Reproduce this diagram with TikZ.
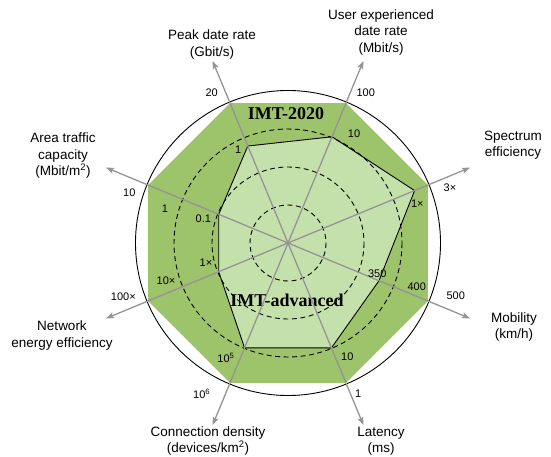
\documentclass[tikz,border=0pt]{standalone}
\usepackage{fontspec}
\setmainfont{Liberation Sans}
\newfontfamily\imtfont{Liberation Serif}
\usetikzlibrary{arrows.meta}
\definecolor{outergreen}{RGB}{157,195,107}
\definecolor{innergreen}{RGB}{197,225,171}
\definecolor{spokegray}{RGB}{148,148,148}

\begin{document}
\begin{tikzpicture}[x=1pt,y=-1pt,
  axislabel/.style={align=center,font=\fontsize{13.5}{16.5}\selectfont,inner sep=0pt},
  tick/.style={font=\fontsize{11}{13}\selectfont,inner sep=0pt},
  spoke/.style={draw=spokegray,line width=1.3pt,-{Stealth[length=8pt,width=6pt,inset=1.5pt]}},
  ring/.style={draw=black,line width=0.9pt,dash pattern=on 5pt off 3.5pt},
  system/.style={font=\imtfont\bfseries\fontsize{18}{20}\selectfont,inner sep=0pt}]
\useasboundingbox (0,0) rectangle (551,456);

\begin{scope}[shift={(288,243)}]
  \coordinate (O) at (0,0);
  % axis directions (y grows downwards): name / angle / IMT-advanced radius
  \foreach \n/\a/\r in {pk/-112.5/105, ue/-67.5/115, se/-22.5/137, mo/22.5/98.5,
                        la/67.5/113.5, cd/112.5/113.5, ne/157.5/75, at/202.5/75} {
    \coordinate (oct-\n) at (\a:151.5);
    \coordinate (adv-\n) at (\a:\r);
    \coordinate (tip-\n) at (\a:197);
  }
  % IMT-2020 area
  \fill[outergreen] (oct-pk) -- (oct-ue) -- (oct-se) -- (oct-mo) -- (oct-la)
    -- (oct-cd) -- (oct-ne) -- (oct-at) -- cycle;
  % IMT-advanced area
  \filldraw[fill=innergreen,draw=black,line width=0.9pt,line join=round]
    (adv-pk) -- (adv-ue) -- (adv-se) -- (adv-mo) -- (adv-la)
    -- (adv-cd) -- (adv-ne) -- (adv-at) -- cycle;
\end{scope}

\node[system] (imt2020) at (286,114) {IMT-2020};
\node[system] (imtadv) at (287,300) {IMT-advanced};

\begin{scope}[shift={(288,243)}]
  \draw[ring] (O) circle[radius=38];
  \draw[ring] (O) circle[radius=76];
  \draw[ring] (O) circle[radius=114];
  \draw[line width=0.9pt] (O) circle[radius=152.5];
  \foreach \n in {pk,ue,se,mo,la,cd,ne,at}
    \draw[spoke] (O) -- (tip-\n);
\end{scope}

% axis titles
\node[axislabel] (l-pk) at (212,44.5) {Peak date rate\\(Gbit/s)};
\node[axislabel] (l-ue) at (381,32.5) {User experienced\\date rate\\(Mbit/s)};
\node[axislabel] (l-se) at (513,145) {Spectrum\\efficiency};
\node[axislabel] (l-at) at (63,155.5) {Area traffic\\capacity\\(Mbit/m\textsuperscript{2})};
\node[axislabel] (l-mo) at (514,327) {Mobility\\(km/h)};
\node[axislabel] (l-ne) at (62,335.5) {Network\\energy efficiency};
\node[axislabel] (l-cd) at (208,441) {Connection density\\(devices/km\textsuperscript{2})};
\node[axislabel] (l-la) at (381,441) {Latency\\(ms)};

% scale values
\node[tick] (t-pk1) at (211.7,92.3) {20};
\node[tick] (t-pk2) at (238.3,149.3) {1};
\node[tick] (t-ue1) at (365.7,92.3) {100};
\node[tick] (t-ue2) at (354,133.3) {10};
\node[tick] (t-se1) at (450,187.3) {3×};
\node[tick] (t-se2) at (417.3,204) {1×};
\node[tick] (t-at1) at (129.3,192.7) {10};
\node[tick] (t-at2) at (165,208.3) {1};
\node[tick] (t-at3) at (203.3,219) {0.1};
\node[tick] (t-ne1) at (123.3,296.7) {100×};
\node[tick] (t-ne2) at (166,280.7) {10×};
\node[tick] (t-ne3) at (206,262.7) {1×};
\node[tick] (t-cd1) at (226,358.3) {10\textsuperscript{5}};
\node[tick] (t-cd2) at (201.7,394) {10\textsuperscript{6}};
\node[tick] (t-la1) at (347.3,356.7) {10};
\node[tick] (t-la2) at (358.3,393.3) {1};
\node[tick] (t-mo1) at (377.3,273.3) {350};
\node[tick] (t-mo2) at (416.7,286.7) {400};
\node[tick] (t-mo3) at (455.7,296) {500};
\end{tikzpicture}
\end{document}
